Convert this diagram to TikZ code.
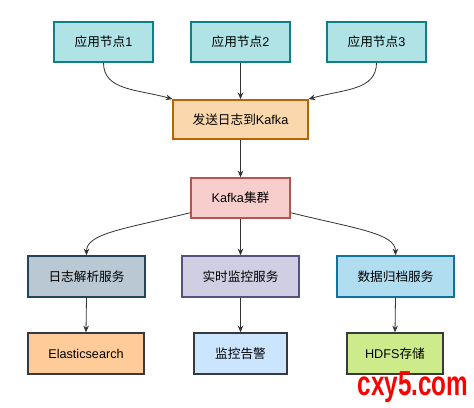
\documentclass[tikz,border=0pt]{standalone}
\usepackage{fontspec}
\setmainfont{Liberation Sans}
\newfontfamily\cjk{Noto Sans CJK SC}
\usetikzlibrary{arrows.meta,calc}
\definecolor{tealF}{HTML}{B0E3E6}\definecolor{tealD}{HTML}{0E8088}
\definecolor{orF}{HTML}{FAD7AC}\definecolor{orD}{HTML}{B46504}
\definecolor{redF}{HTML}{F8CECC}\definecolor{redD}{HTML}{B85450}
\definecolor{slF}{HTML}{BAC8D3}\definecolor{slD}{HTML}{23445D}
\definecolor{puF}{HTML}{D0CEE2}\definecolor{puD}{HTML}{56517E}
\definecolor{blF}{HTML}{B1DDF0}\definecolor{blD}{HTML}{10739E}
\definecolor{esF}{HTML}{FFCC99}\definecolor{grD}{HTML}{36393D}
\definecolor{mnF}{HTML}{CCE5FF}\definecolor{hdF}{HTML}{CDEB8B}
\definecolor{arr}{HTML}{333333}
\definecolor{wm}{HTML}{FF0000}
\begin{document}
\begin{tikzpicture}[x=0.75pt,y=-0.75pt,
  box/.style={draw, line width=1.1pt, minimum height=30pt, inner sep=0pt, font=\fontsize{9.5pt}{11pt}\selectfont, text=black},
  con/.style={draw=arr, line width=0.6pt, -{Stealth[length=5pt,width=4.2pt]}}]
\useasboundingbox (0,0) rectangle (474,407);
\node[box, fill=tealF, draw=tealD, minimum width=74.25pt] (a1) at (103.5,42) {{\cjk 应用节点}1};
\node[box, fill=tealF, draw=tealD, minimum width=74.25pt] (a2) at (240.5,42) {{\cjk 应用节点}2};
\node[box, fill=tealF, draw=tealD, minimum width=74.25pt] (a3) at (376.5,42) {{\cjk 应用节点}3};
\node[box, fill=orF, draw=orD, minimum width=101pt, minimum height=29.5pt] (send) at (240.5,119.5) {{\cjk 发送日志到}Kafka};
\node[box, fill=redF, draw=redD, minimum width=74.25pt] (kafka) at (240.5,198) {Kafka{\cjk 集群}};
\node[box, fill=slF, draw=slD, minimum width=88pt, minimum height=30.75pt] (s1) at (86.5,276.5) {\cjk 日志解析服务};
\node[box, fill=puF, draw=puD, minimum width=88pt, minimum height=30.75pt] (s2) at (240.5,276.5) {\cjk 实时监控服务};
\node[box, fill=blF, draw=blD, minimum width=88pt, minimum height=30.75pt] (s3) at (395.5,276.5) {\cjk 数据归档服务};
\node[box, fill=esF, draw=grD, minimum width=87pt, minimum height=30.75pt] (d1) at (86,353.5) {Elasticsearch};
\node[box, fill=mnF, draw=grD, minimum width=70pt, minimum height=30.75pt] (d2) at (240.5,353.5) {\cjk 监控告警};
\node[box, fill=hdF, draw=grD, minimum width=72pt, minimum height=30.75pt] (d3) at (395,353.5) {HDFS{\cjk 存储}};
\node[text=wm, font=\fontsize{26pt}{28pt}\selectfont\bfseries, inner sep=0pt, xscale=0.7, yscale=1.0] (wmk) at (413,387.5) {cxy5.com};
\path[con] (a1.south) .. controls ($(a1.south)+(0,28)$) and ($(send.north west)+(-35,-10)$) .. (send.north west);
\path[con] (a2.south) -- (send.north);
\path[con] (a3.south) .. controls ($(a3.south)+(0,28)$) and ($(send.north east)+(35,-10)$) .. (send.north east);
\path[con] (send.south) -- (kafka.north);
\path[con] ($(kafka.south west)+(0,-6)$) .. controls ($(kafka.south west)+(-65,10)$) and ($(s1.north)+(0,-22)$) .. (s1.north);
\path[con] (kafka.south) -- (s2.north);
\path[con] ($(kafka.south east)+(0,-6)$) .. controls ($(kafka.south east)+(65,10)$) and ($(s3.north)+(0,-22)$) .. (s3.north);
\path[con] (s1.south) -- (d1.north);
\path[con] (s2.south) -- (d2.north);
\path[con] (s3.south) -- (d3.north);
\end{tikzpicture}
\end{document}
